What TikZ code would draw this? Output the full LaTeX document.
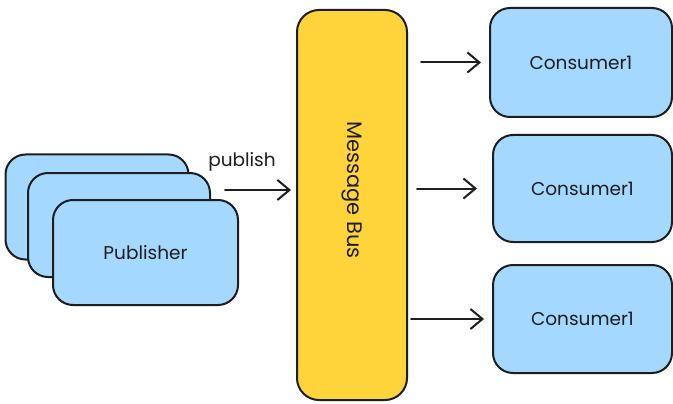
\documentclass[tikz,border=0pt]{standalone}
\usepackage{fontspec}
\setmainfont{Poppins}
\usetikzlibrary{arrows.meta}
\definecolor{ink}{HTML}{1E1E1E}
\definecolor{paleblue}{HTML}{A5D8FF}
\definecolor{busyellow}{HTML}{FFD43B}
\tikzset{
  card/.style={draw=ink, line width=2pt, fill=paleblue, rounded corners=20pt,
    inner sep=0pt, text=ink, font=\fontsize{18.5}{22}\selectfont},
  busbox/.style={draw=ink, line width=2pt, fill=busyellow, rounded corners=22pt,
    inner sep=0pt, text=ink},
  flow/.style={draw=ink, line width=2pt, line cap=round,
    -{Straight Barb[length=12pt,width=20pt,line width=2pt]}},
  tag/.style={text=ink, font=\fontsize{18.5}{22}\selectfont, inner sep=0pt},
  bustag/.style={text=ink, font=\fontsize{21}{25}\selectfont, inner sep=0pt}
}
\begin{document}
\begin{tikzpicture}[x=1pt, y=-1pt]
  \fill[white] (0,0) rectangle (673,404);
  \useasboundingbox (0,0) rectangle (673,404);

  % stacked publishers
  \node[card, minimum width=183pt, minimum height=105pt] (pubback) at (97,207) {};
  \node[card, minimum width=182pt, minimum height=104pt] (pubmid) at (119,225) {};
  \node[card, minimum width=185pt, minimum height=105pt] (pub) at (145.5,252.5) {Publisher};

  % message bus
  \node[busbox, minimum width=110pt, minimum height=390pt] (bus) at (352,205) {};
  \node[bustag, rotate=-90] (buslabel) at (352,190) {Message Bus};

  % consumers
  \node[card, minimum width=182pt, minimum height=109pt] (c1) at (581,62.5) {Consumer1};
  \node[card, minimum width=179pt, minimum height=107pt] (c2) at (582.5,188.5) {Consumer1};
  \node[card, minimum width=179pt, minimum height=108pt] (c3) at (582.5,319) {Consumer1};

  % publish arrow
  \coordinate (pubstart) at (225,190);
  \draw[flow] (pubstart) -- ([xshift=-5pt]bus.west |- pubstart);
  \node[tag] (publabel) at (242,162) {publish};

  % bus to consumers
  \draw[flow] ([xshift=13pt]bus.east |- c1.west) -- ([xshift=-8pt]c1.west);
  \draw[flow] ([xshift=9pt]bus.east |- c2.west) -- ([xshift=-15pt]c2.west);
  \draw[flow] ([xshift=3pt]bus.east |- c3.west) -- ([xshift=-8pt]c3.west);
\end{tikzpicture}
\end{document}
